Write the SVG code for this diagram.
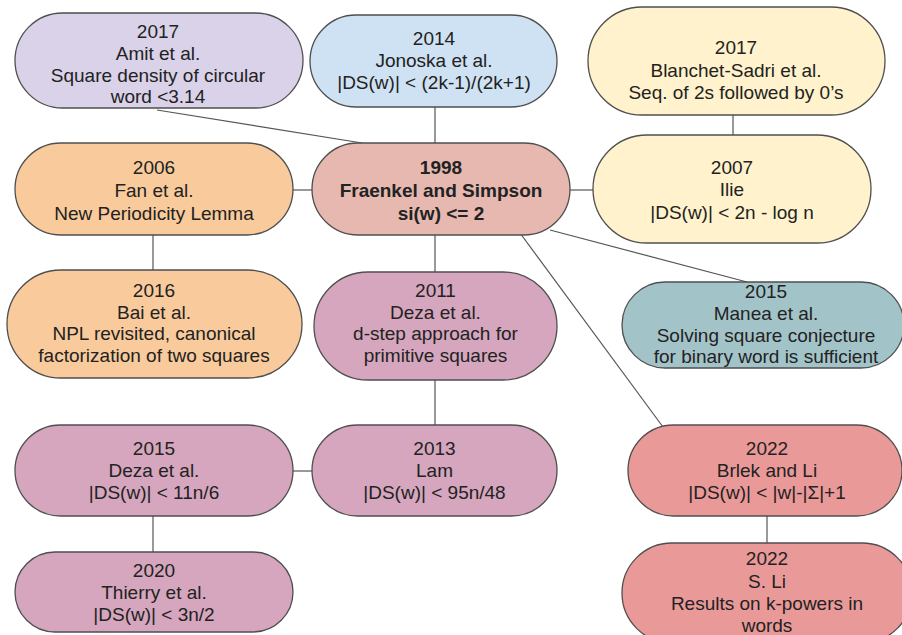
<svg xmlns="http://www.w3.org/2000/svg" width="902" height="635" viewBox="0 0 902 635">
<style>
.n{stroke:#4f4f4f;stroke-width:1.3}
.c line{stroke:#555;stroke-width:1.2}
text{font-family:"Liberation Sans",Arial,sans-serif;font-size:19px;fill:#222;text-anchor:middle}
.b{font-weight:bold}
.lav{fill:#d9d2e9}.blu{fill:#cfe2f3}.yel{fill:#fff2cc}.pnk{fill:#e6b8af}.org{fill:#f9cb9c}.mag{fill:#d5a6bd}.tea{fill:#a2c4c9}.red{fill:#ea9999}
</style>
<rect width="902" height="635" fill="#fff"/>
<g class="c" id="connectors">
<line x1="157" y1="110" x2="362" y2="143"/>
<line x1="435" y1="107" x2="435" y2="143"/>
<line x1="733" y1="115" x2="733" y2="135"/>
<line x1="293" y1="190" x2="312" y2="190"/>
<line x1="570" y1="190" x2="593" y2="190"/>
<line x1="153" y1="235" x2="153" y2="270"/>
<line x1="435" y1="235" x2="435" y2="272"/>
<line x1="550" y1="230" x2="747" y2="282"/>
<line x1="520" y1="233" x2="663" y2="427"/>
<line x1="435" y1="380" x2="435" y2="425"/>
<line x1="293" y1="471" x2="312" y2="471"/>
<line x1="153" y1="516" x2="153" y2="552"/>
<line x1="767" y1="516" x2="767" y2="543"/>
</g>
<g id="amit">
<rect class="n lav" x="15" y="13" width="288" height="95" rx="47.5"/>
<text x="158" y="38">2017</text>
<text x="158" y="60">Amit et al.</text>
<text x="158" y="81.5">Square density of circular</text>
<text x="158" y="103">word &lt;3.14</text>
</g>
<g id="jonoska">
<rect class="n blu" x="310" y="15" width="247" height="92" rx="46"/>
<text x="434" y="45">2014</text>
<text x="434" y="67">Jonoska et al.</text>
<text x="434" y="88.5">|DS(w)| &lt; (2k-1)/(2k+1)</text>
</g>
<g id="blanchet">
<rect class="n yel" x="588" y="7" width="297" height="108" rx="54"/>
<text x="736" y="54">2017</text>
<text x="736" y="76.5">Blanchet-Sadri et al.</text>
<text x="736" y="99">Seq. of 2s followed by 0’s</text>
</g>
<g id="fraenkel">
<rect class="n pnk" x="312" y="143" width="258" height="92" rx="46"/>
<text class="b" x="441" y="173.5">1998</text>
<text class="b" x="441" y="196.5">Fraenkel and Simpson</text>
<text class="b" x="441" y="220">si(w) &lt;= 2</text>
</g>
<g id="fan">
<rect class="n org" x="15" y="143" width="278" height="92" rx="46"/>
<text x="154" y="173.5">2006</text>
<text x="154" y="196.5">Fan et al.</text>
<text x="154" y="219.5">New Periodicity Lemma</text>
</g>
<g id="ilie">
<rect class="n yel" x="593" y="135" width="278" height="108" rx="54"/>
<text x="732" y="173.5">2007</text>
<text x="732" y="196">Ilie</text>
<text x="732" y="218.5">|DS(w)| &lt; 2n - log n</text>
</g>
<g id="bai">
<rect class="n org" x="7" y="270" width="295" height="108" rx="54"/>
<text x="154" y="297">2016</text>
<text x="154" y="318.5">Bai et al.</text>
<text x="154" y="340">NPL revisited, canonical</text>
<text x="154" y="361.5">factorization of two squares</text>
</g>
<g id="deza2011">
<rect class="n mag" x="314" y="272" width="243" height="108" rx="54"/>
<text x="435.5" y="297">2011</text>
<text x="435.5" y="318.5">Deza et al.</text>
<text x="435.5" y="340">d-step approach for</text>
<text x="435.5" y="361.5">primitive squares</text>
</g>
<g id="manea">
<rect class="n tea" x="622" y="282" width="282" height="86" rx="43"/>
<text x="766" y="298">2015</text>
<text x="766" y="320">Manea et al.</text>
<text x="766" y="341.5">Solving square conjecture</text>
<text x="766" y="363">for binary word is sufficient</text>
</g>
<g id="deza2015">
<rect class="n mag" x="15" y="425" width="278" height="91" rx="45.5"/>
<text x="154" y="455">2015</text>
<text x="154" y="477">Deza et al.</text>
<text x="154" y="499">|DS(w)| &lt; 11n/6</text>
</g>
<g id="lam">
<rect class="n mag" x="312" y="425" width="245" height="91" rx="45.5"/>
<text x="434.5" y="455">2013</text>
<text x="434.5" y="477">Lam</text>
<text x="434.5" y="499">|DS(w)| &lt; 95n/48</text>
</g>
<g id="brlek">
<rect class="n red" x="628" y="425" width="274" height="91" rx="45.5"/>
<text x="767" y="455">2022</text>
<text x="767" y="477">Brlek and Li</text>
<text x="767" y="499">|DS(w)| &lt; |w|-|Σ|+1</text>
</g>
<g id="thierry">
<rect class="n mag" x="15" y="552" width="278" height="80" rx="40"/>
<text x="154" y="577">2020</text>
<text x="154" y="599">Thierry et al.</text>
<text x="154" y="621">|DS(w)| &lt; 3n/2</text>
</g>
<g id="sli">
<rect class="n red" x="622" y="543" width="290" height="100" rx="50"/>
<text x="767" y="565">2022</text>
<text x="767" y="587.5">S. Li</text>
<text x="767" y="610">Results on k-powers in</text>
<text x="767" y="632">words</text>
</g>
</svg>
